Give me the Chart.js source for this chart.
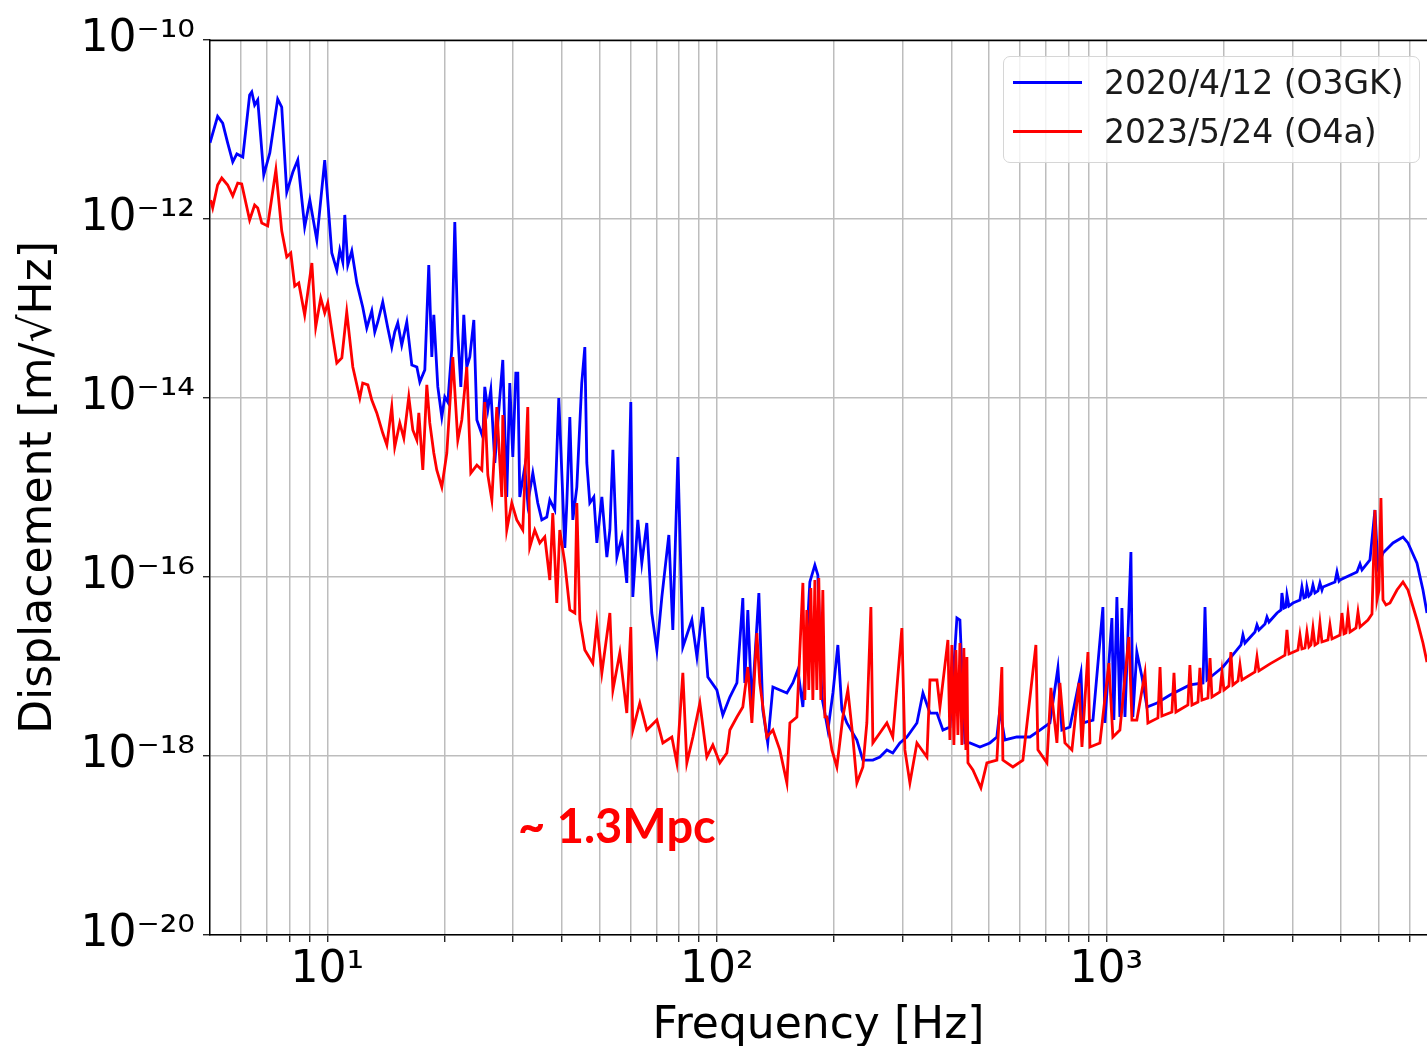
<!DOCTYPE html>
<html><head><meta charset="utf-8">
<script src="https://cdn.jsdelivr.net/npm/chart.js@4"></script>
<style>
html,body{margin:0;padding:0;background:#fff;overflow:hidden;}
#wrap{position:relative;width:1427px;height:1046px;}
#c{position:absolute;left:0;top:0;}
#legend{position:absolute;left:1003px;top:56px;width:417px;height:107px;border:1.5px solid #d6d6d6;border-radius:7px;background:rgba(255,255,255,0.8);font-family:'DejaVu Sans';font-size:33px;color:#1a1a1a;box-sizing:border-box;}
.sw{position:absolute;left:9px;width:69px;height:3px;}
.lb{position:absolute;left:100px;white-space:nowrap;line-height:1;}
#note{position:absolute;left:518px;top:797px;font-family:Lato;font-weight:bold;font-size:47px;color:#ff0000;white-space:nowrap;}
</style></head>
<body><div id="wrap"><canvas id="c" width="1427" height="1046"></canvas><div id="legend"></div><div id="note"></div></div>
<script>
// ---- data ----
const seriesNames = ['2020/4/12 (O3GK)', '2023/5/24 (O4a)'];
const annotationText = '~ 1.3Mpc';
const xTitle = 'Frequency [Hz]';
const yTitle = 'Displacement [m/\u221AHz]';

const freqBlue = [
5.0,5.23,5.39,5.55,5.72,5.86,6.07,6.32,6.40,6.51,
6.63,6.87,7.12,7.46,7.64,7.87,8.16,8.40,8.75,9.02,
9.40,9.85,10.27,10.58,10.77,10.96,11.09,11.29,11.56,11.91,
12.33,12.63,13.01,13.24,13.48,13.88,14.30,14.64,14.90,15.17,
15.53,16.0,16.48,16.98,17.28,17.80,18.22,18.55,18.77,19.22,
19.68,20.03,20.39,20.87,21.25,21.63,22.02,22.41,22.81,23.22,
23.78,24.21,25.08,25.37,25.83,26.29,26.92,27.40,28.22,28.89,
29.41,29.94,30.48,30.84,31.20,32.14,32.71,33.70,34.70,35.54,
36.60,37.26,38.37,39.29,40.0,40.72,41.2,41.94,42.69,43.71,
45.0,45.83,46.37,47.2,48.33,49.2,50.68,52.2,53.14,54.1,
55.39,57.03,58.73,60.14,60.86,62.68,64.18,66.1,68.08,70.15,
72.26,75.3,77.1,79.43,81.8,86.28,88.9,92.0,94.82,100,
103.6,108,112.6,116.6,118,120.1,123,128.2,131.2,135.1,
139.3,145.1,151.3,156.7,161.4,166.3,173.3,178.5,181.7,186.1,
192.8,198.6,204.5,209.4,215.7,228.8,237.1,251.5,262.1,273.2,
282.9,295,307.5,326.3,338.1,352.4,367.3,380.5,396.5,413.3,
420.7,433.3,446.3,473.5,502.2,523.4,532.8,548.7,589.1,636.2,
675,716.1,750.8,768.7,806,860.3,870.6,923.6,979.5,991,
1033,1045,1064,1083,1096,1116,1156,1169,1197,1234,
1271,1349,1456,1638,1770,1791,1812,1991,2163,2215,
2241,2268,2406,2435,2463,2553,2583,2614,2741,2806,
2822,2856,2890,2907,2942,3012,3139,3176,3214,3252,
3271,3311,3350,3390,3430,3491,3533,3575,3596,3861,
3907,3954,3977,4397,4477,4530,4748,4890,4977,5128,
5440,5772,5945,6270,6496,6652];
const dispBlue = [
7.1e-12,1.4e-11,1.18e-11,7.1e-12,4.34e-12,5.33e-12,4.93e-12,2.43e-11,2.63e-11,1.88e-11,
2.14e-11,3.1e-12,5.47e-12,2.19e-11,1.78e-11,2.0e-12,3.35e-12,4.56e-12,8.15e-13,1.63e-12,
5.83e-13,4.56e-12,4.17e-13,2.69e-13,4.5e-13,3.31e-13,1.11e-12,3.06e-13,4.4e-13,1.93e-13,
1.04e-13,6.06e-14,9.4e-14,5.47e-14,7.07e-14,1.18e-13,6.06e-14,3.71e-14,5.47e-14,6.9e-14,
3.91e-14,7.07e-14,2.34e-14,2.22e-14,1.51e-14,2.06e-14,3.06e-13,2.87e-14,8.48e-14,1.33e-14,
6.13e-15,1.03e-14,9.0e-15,3.44e-14,9.26e-13,5.33e-14,1.33e-14,8.48e-14,2.22e-14,2.87e-14,
7.45e-14,5.69e-15,3.66e-15,1.33e-14,7.37e-15,1.23e-14,1.88e-15,5.26e-15,2.66e-14,7.84e-16,
1.47e-14,2.19e-15,1.9e-14,1.9e-14,7.84e-16,1.69e-15,6.72e-16,1.45e-15,6.72e-16,4.34e-16,
4.68e-16,7.26e-16,5.61e-16,1.0e-14,1.45e-15,2.11e-16,6.72e-16,6.13e-15,4.34e-16,1.01e-15,
1.47e-14,3.71e-14,1.88e-15,6.72e-16,7.84e-16,2.4e-16,7.84e-16,1.67e-16,3.35e-16,2.63e-15,
1.67e-16,2.8e-16,8.59e-17,9.0e-15,5.98e-17,4.34e-16,1.43e-16,4.01e-16,3.96e-17,1.53e-17,
5.98e-17,2.95e-16,2.56e-17,2.19e-15,1.65e-17,3.31e-17,1.28e-17,4.62e-17,7.64e-18,5.47e-18,
2.87e-18,4.56e-18,6.55e-18,5.83e-17,6.55e-18,4.28e-17,3.53e-18,6.63e-17,3.27e-18,1.4e-18,
5.91e-18,5.47e-18,5.06e-18,6.55e-18,9.16e-18,3.53e-18,8.8e-17,1.36e-16,1.05e-16,4.56e-18,
1.95e-18,5.06e-18,1.74e-17,3.27e-18,2.34e-18,1.51e-18,9.0e-19,9.0e-19,9.75e-19,1.17e-18,
1.08e-18,1.4e-18,1.63e-18,2.34e-18,5.06e-18,3.02e-18,3.02e-18,1.95e-18,2.11e-18,3.48e-17,
3.31e-17,1.4e-18,1.4e-18,1.26e-18,1.4e-18,1.63e-18,3.27e-18,1.51e-18,1.63e-18,1.63e-18,
1.95e-18,2.34e-18,9.64e-18,1.95e-18,2.11e-18,8.48e-18,2.34e-18,2.52e-18,4.62e-17,2.34e-18,
3.48e-17,2.52e-18,5.98e-17,2.73e-18,4.5e-17,2.73e-18,1.9e-16,2.73e-18,1.45e-17,7.64e-18,
3.53e-18,3.91e-18,4.8e-18,6.22e-18,6.55e-18,4.62e-17,7.07e-18,9.87e-18,1.53e-17,1.74e-17,
2.25e-17,1.83e-17,2.43e-17,2.91e-17,2.56e-17,2.99e-17,3.57e-17,3.14e-17,3.96e-17,4.28e-17,
6.63e-17,4.5e-17,4.62e-17,6.3e-17,4.74e-17,5.12e-17,5.54e-17,7.74e-17,5.83e-17,5.98e-17,
7.74e-17,6.13e-17,6.46e-17,8.15e-17,6.63e-17,6.98e-17,8.59e-17,7.16e-17,7.74e-17,8.8e-17,
1.14e-16,9.0e-17,9.26e-17,1.14e-16,1.4e-16,1.2e-16,1.55e-16,5.61e-16,1.29e-16,1.85e-16,
2.4e-16,2.8e-16,2.4e-16,1.43e-16,7.16e-17,3.96e-17];

const freqRed = [
5.02,5.08,5.23,5.36,5.55,5.72,5.89,6.03,6.32,6.51,
6.63,6.79,7.03,7.38,7.64,7.87,8.06,8.25,8.45,8.75,
9.13,9.34,9.62,9.85,10.03,10.33,10.58,10.9,11.22,11.63,
12.12,12.33,12.71,13.01,13.40,13.88,14.22,14.64,14.90,15.35,
15.72,16.19,16.58,16.98,17.18,17.59,18.01,18.33,18.77,19.10,
19.68,20.27,21.0,21.63,22.15,22.81,23.36,24.21,24.93,25.37,
25.83,26.45,27.24,28.05,28.22,28.89,29.76,30.65,31.76,32.71,
33.10,34.09,35.12,36.17,37.26,37.92,38.83,39.52,40.72,41.94,
43.2,43.71,44.5,45.83,48.04,49.2,50.68,53.14,54.1,56.36,
58.73,60.14,60.86,63.43,66.1,70.15,72.69,76.65,78.95,81.8,
83.75,86.8,90.46,94.25,97.66,101.8,106.1,108,112.6,116.6,
120.1,123,126.7,128.9,134.4,139.3,145.1,151.3,154,160.5,
166.3,168.2,170.2,172.2,174.3,176.4,178.5,180.6,182.7,184.9,
187.1,189.4,191.6,197.4,203.3,210.6,216.9,
223.4,228.8,237.1,242.7,248.6,251.5,262.1,273.2,282.9,298.5,
303.9,313,326.3,346.2,352.4,367.3,373.9,391.9,396.5,401.2,
406.0,410.8,415.7,420.7,425.6,430.6,435.8,438.5,
441.1,454.3,476.3,493.4,523.4,539.1,542.3,575.3,610.4,
659.2,667.1,703.5,720.4,746.4,759.7,782.5,815.6,850.2,865.4,
896.7,907.4,962.3,1015,1039,1083,1142,1163,1197,1256,
1278,1356,1373,1388,1473,1491,1508,1619,1638,1658,
1718,1738,1759,1822,1845,1866,1956,1980,2003,2063,
2087,2112,2176,2202,2228,2406,2435,2463,2629,2789,
2873,2907,2942,3102,3139,3176,3233,3271,3311,3350,
3390,3430,3491,3533,3575,3704,3748,3793,3977,4024,
4073,4121,4170,4220,4372,4424,4477,4692,4805,4890,
4949,5008,5067,5128,5220,5344,5570,5772,5945,6270,
6496,6652];
const dispRed = [
1.63e-12,1.33e-12,2.4e-12,2.87e-12,2.4e-12,1.81e-12,2.52e-12,2.46e-12,9.75e-13,1.43e-12,
1.33e-12,9.0e-13,8.37e-13,3.53e-12,7.37e-13,3.76e-13,4.17e-13,1.78e-13,1.93e-13,8.48e-14,
3.22e-13,6.22e-14,1.31e-13,8.92e-14,1.15e-13,4.8e-14,2.46e-14,2.8e-14,9.16e-14,2.22e-14,
1.0e-14,1.47e-14,1.4e-14,9.5e-15,6.81e-15,4.06e-15,2.99e-15,7.94e-15,2.84e-15,5.26e-15,
3.57e-15,1.03e-14,4.4e-15,3.39e-15,6.81e-15,1.57e-15,1.4e-14,5.26e-15,2.43e-15,1.57e-15,
1.01e-15,2.43e-15,2.87e-14,3.39e-15,5.69e-15,2.22e-14,1.45e-15,1.78e-15,1.57e-15,9.0e-15,
1.38e-15,7.26e-16,7.94e-15,7.84e-16,6.46e-15,3.35e-16,6.72e-16,4.34e-16,3.35e-16,7.94e-15,
2.16e-16,3.35e-16,2.4e-16,2.8e-16,9.26e-17,5.19e-16,5.12e-17,3.35e-16,1.43e-16,4.28e-17,
3.96e-17,6.72e-16,3.31e-17,1.53e-17,1.09e-17,3.06e-17,8.48e-18,3.96e-17,5.47e-18,1.42e-17,
3.02e-18,2.76e-17,1.95e-18,3.91e-18,1.95e-18,2.52e-18,1.4e-18,1.63e-18,8.37e-19,8.48e-18,
8.37e-19,1.63e-18,3.91e-18,9.75e-19,1.33e-18,8.37e-19,1.08e-18,1.95e-18,2.73e-18,3.53e-18,
9.87e-18,2.34e-18,2.37e-17,6.55e-18,1.63e-18,1.95e-18,1.17e-18,5.0e-19,2.34e-18,2.73e-18,
8.59e-17,4.22e-18,4.28e-17,5.47e-18,7.54e-17,4.22e-18,9.26e-17,5.47e-18,9.75e-17,4.22e-18,
7.16e-17,2.73e-18,2.73e-18,1.17e-18,7.54e-19,2.73e-18,5.47e-18,
1.63e-18,5.0e-19,7.54e-19,2.34e-18,4.62e-17,1.4e-18,1.81e-18,2.34e-18,1.63e-18,2.69e-17,
1.17e-18,5.0e-19,1.4e-18,9.75e-19,7.07e-18,7.07e-18,3.53e-18,1.98e-17,1.51e-18,1.74e-17,
1.33e-18,1.53e-17,1.72e-18,1.83e-17,1.33e-18,1.61e-17,1.17e-18,1.28e-17,
8.37e-19,6.98e-19,4.4e-19,8.37e-19,9.0e-19,9.87e-18,9.0e-19,7.54e-19,9.0e-19,
1.74e-17,1.17e-18,8.37e-19,5.76e-18,1.4e-18,6.55e-18,1.4e-18,1.17e-18,6.55e-18,1.26e-18,
1.45e-17,1.26e-18,1.4e-18,1.09e-17,1.63e-18,1.95e-18,2.14e-17,2.52e-18,2.52e-18,8.48e-18,
2.34e-18,2.66e-18,9.87e-18,2.8e-18,3.1e-18,8.48e-18,3.1e-18,3.71e-18,1.04e-17,3.71e-18,
4.01e-18,9.64e-18,4.22e-18,4.45e-18,1.24e-17,4.56e-18,5.19e-18,8.7e-18,5.47e-18,6.06e-18,
1.45e-17,6.22e-18,6.9e-18,1.04e-17,7.07e-18,8.7e-18,1.28e-17,8.92e-18,1.07e-17,1.24e-17,
1.34e-17,2.56e-17,1.38e-17,1.53e-17,2.25e-17,1.57e-17,1.61e-17,2.43e-17,1.65e-17,1.74e-17,
2.69e-17,1.74e-17,1.83e-17,3.06e-17,1.88e-17,1.98e-17,2.91e-17,2.03e-17,2.25e-17,3.96e-17,
2.31e-17,2.37e-17,3.96e-17,2.43e-17,2.69e-17,4.06e-17,2.76e-17,3.31e-17,3.86e-17,5.61e-16,
5.54e-17,7.16e-17,7.64e-16,5.54e-17,4.87e-17,5.12e-17,7.16e-17,8.8e-17,7.16e-17,3.31e-17,
1.83e-17,1.12e-17];

// axes
const xMin = 5, xMax = 6652;
const yMin = 1e-20, yMax = 1e-10;
const xGridTicks = [6,7,8,9,10,20,30,40,50,60,70,80,90,100,200,300,400,500,600,700,800,900,1000,2000,3000,4000,5000,6000];
const xMajorTicks = [10, 100, 1000];
const xTickLabels = ['10\u00B9', '10\u00B2', '10\u00B3'];
const yTicks = [1e-20, 1e-18, 1e-16, 1e-14, 1e-12, 1e-10];
const yTickLabels = ['10\u207B\u00B2\u2070', '10\u207B\u00B9\u2078', '10\u207B\u00B9\u2076', '10\u207B\u00B9\u2074', '10\u207B\u00B9\u00B2', '10\u207B\u00B9\u2070'];
const seriesColors = ['#0000ff', '#ff0000'];

function labelFor(v, vals, labels) {
  for (let i = 0; i < vals.length; i++) {
    if (Math.abs(Math.log10(v) - Math.log10(vals[i])) < 1e-6) return labels[i];
  }
  return '';
}
const toPts = (xs, ys) => xs.map((x, i) => ({x: x, y: ys[i]}));

Chart.defaults.font.family = "'DejaVu Sans'";
Chart.defaults.color = '#000';

const frame = {
  id: 'frame',
  afterDatasetsDraw(chart) {
    const a = chart.chartArea, ctx = chart.ctx;
    ctx.save();
    ctx.strokeStyle = '#000'; ctx.lineWidth = 1.5;
    ctx.beginPath(); ctx.moveTo(a.left, a.top + 0.5); ctx.lineTo(a.right, a.top + 0.5); ctx.stroke();
    ctx.restore();
  }
};

const chart = new Chart(document.getElementById('c'), {
  type: 'line',
  data: {
    datasets: [
      {label: seriesNames[0], data: toPts(freqBlue, dispBlue), borderColor: seriesColors[0], borderWidth: 2.8, pointRadius: 0, tension: 0, order: 2},
      {label: seriesNames[1], data: toPts(freqRed, dispRed), borderColor: seriesColors[1], borderWidth: 2.8, pointRadius: 0, tension: 0, order: 1}
    ]
  },
  options: {
    responsive: false, animation: false, devicePixelRatio: 1,
    layout: {padding: {top: 40, right: 0, left: 0, bottom: 0}},
    plugins: {legend: {display: false}, tooltip: {enabled: false}},
    scales: {
      x: {
        type: 'logarithmic', position: 'bottom', min: xMin, max: xMax,
        afterBuildTicks: s => { s.ticks = xGridTicks.map(v => ({value: v})); },
        afterFit: s => { s.height = 111; },
        ticks: {autoSkip: false, maxRotation: 0, minRotation: 0, padding: 2, font: {size: 44}, color: '#000',
                callback: v => labelFor(v, xMajorTicks, xTickLabels)},
        grid: {color: '#bdbdbd', lineWidth: 1.5, tickColor: '#000', tickLength: 7, tickWidth: 1.2},
        border: {color: '#000', width: 1.5},
        title: {display: true, text: xTitle, font: {size: 44, lineHeight: 1}, color: '#000', padding: {top: 0, bottom: -3}}
      },
      y: {
        type: 'logarithmic', position: 'left', min: yMin, max: yMax,
        afterBuildTicks: s => { s.ticks = yTicks.map(v => ({value: v})); },
        afterFit: s => { s.width = 210; },
        ticks: {autoSkip: false, padding: 8, font: {size: 44}, color: '#000',
                callback: v => labelFor(v, yTicks, yTickLabels)},
        grid: {color: '#bdbdbd', lineWidth: 1.5, tickColor: '#000', tickLength: 7, tickWidth: 1.2},
        border: {color: '#000', width: 1.5},
        title: {display: true, text: yTitle, font: {size: 44, lineHeight: 1}, color: '#000', padding: {top: 18, bottom: 0}}
      }
    }
  },
  plugins: [frame]
});

// legend (built from the chart's datasets)
const lg = document.getElementById('legend');
const centers = [25, 74];
chart.data.datasets.forEach((ds, i) => {
  const sw = document.createElement('div');
  sw.className = 'sw'; sw.style.top = (centers[i] - 1.5) + 'px'; sw.style.background = ds.borderColor;
  const lb = document.createElement('div');
  lb.className = 'lb'; lb.style.top = (centers[i] - 16) + 'px'; lb.textContent = ds.label;
  lg.appendChild(sw); lg.appendChild(lb);
});
document.getElementById('note').textContent = annotationText;
</script>
</body></html>
